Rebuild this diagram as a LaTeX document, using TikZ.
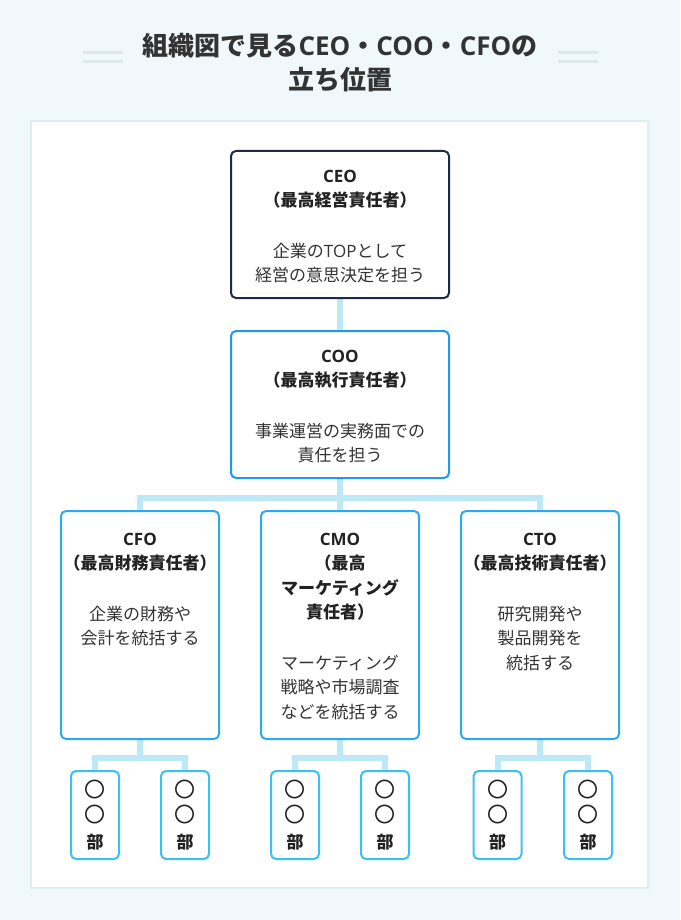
\documentclass[tikz,border=0pt]{standalone}
\usepackage{fontspec}
\setmainfont{Noto Sans CJK JP}
\newfontfamily\latf{Open Sans}
\usetikzlibrary{calc}
\definecolor{bg}{HTML}{F0F8FB}
\definecolor{panelline}{HTML}{DDEEF3}
\definecolor{deco}{HTML}{DCEAEE}
\definecolor{navy}{HTML}{1F2A44}
\definecolor{blueA}{HTML}{2196F3}
\definecolor{blueB}{HTML}{2EA8F2}
\definecolor{blueC}{HTML}{3DBFF3}
\definecolor{conn}{HTML}{BDE8F6}
\definecolor{ink}{HTML}{222222}
\definecolor{ink2}{HTML}{333333}
\pgfdeclarelayer{back}
\pgfdeclarelayer{connlayer}
\pgfsetlayers{back,connlayer,main}
\newcommand{\fl}[1]{\rule{0pt}{#1}}
\newcommand{\bl}[1]{{\bfseries\color{ink}#1}}
\newcommand{\la}[1]{{\latf #1}}
\newcommand{\maru}{{\fontsize{21}{25.5}\selectfont\color{ink}〇}}
\begin{document}
\begin{tikzpicture}[x=1pt,y=-1pt,
  box/.style={draw, fill=white, rounded corners=5pt, line width=2pt, inner sep=0pt, outer sep=0pt},
  bigbox/.style={box, minimum width=218pt, minimum height=147pt},
  midbox/.style={box, draw=blueB, minimum width=158pt, minimum height=228pt},
  smallbox/.style={box, draw=blueC, minimum width=48pt, minimum height=88pt, align=center,
     font=\fontsize{17}{25.5}\selectfont, text=ink2},
  txt/.style={anchor=north, align=center, inner sep=0pt, text=ink2,
     font=\fontsize{17}{24.5}\selectfont},
  connector/.style={draw=conn, line width=6pt},
  decoline/.style={draw=deco, line width=3pt},
]
\useasboundingbox (0,0) rectangle (680,920);
\begin{pgfonlayer}{back}
  \fill[bg] (0,0) rectangle (680,920);
  \draw[draw=panelline, fill=white, line width=2pt] (31,121) rectangle (648,888);
\end{pgfonlayer}

% title
\draw[decoline] (83,53) -- (123,53);
\draw[decoline] (83,62) -- (123,62);
\draw[decoline] (558,53) -- (598,53);
\draw[decoline] (558,62) -- (598,62);
\node[anchor=north, align=center, inner sep=0pt, text=ink2,
      font=\fontsize{26}{34}\selectfont\bfseries] (title) at (340,33)
  {\fl{20pt}組織図で見る\la{CEO}・\la{COO}・\la{CFO}の\\立ち位置};

% boxes
\node[bigbox, draw=navy] (ceo) at (340,224.5) {};
\node[bigbox, draw=blueA] (coo) at (340,404.5) {};
\node[midbox] (cfo) at (140,625) {};
\node[midbox] (cmo) at (340,625) {};
\node[midbox] (cto) at (540,625) {};

\node[smallbox] (d1) at (95,815) {\maru\\\maru\\\bl{部}};
\node[smallbox] (d2) at (185,815) {\maru\\\maru\\\bl{部}};
\node[smallbox] (d3) at (295,815) {\maru\\\maru\\\bl{部}};
\node[smallbox] (d4) at (385,815) {\maru\\\maru\\\bl{部}};
\node[smallbox] (d5) at (497.5,815) {\maru\\\maru\\\bl{部}};
\node[smallbox] (d6) at (588,815) {\maru\\\maru\\\bl{部}};

% texts
\node[txt] (ceot) at ($(ceo.north)+(0,17)$)
  {\fl{14pt}\bl{\la{CEO}}\\\bl{（最高経営責任者）}\\[26pt]企業の\la{TOP}として\\経営の意思決定を担う};
\node[txt] (coot) at ($(coo.north)+(0,17)$)
  {\fl{14pt}\bl{\la{COO}}\\\bl{（最高執行責任者）}\\[26pt]事業運営の実務面での\\責任を担う};
\node[txt] (cfot) at ($(cfo.north)+(0,20)$)
  {\fl{14pt}\bl{\la{CFO}}\\\bl{（最高財務責任者）}\\[26pt]企業の財務や\\会計を統括する};
\node[txt] (cmot) at ($(cmo.north)+(0,20)$)
  {\fl{14pt}\bl{\la{CMO}}\\\bl{（最高}\\\bl{マーケティング}\\\bl{責任者）}\\[26pt]マーケティング\\戦略や市場調査\\などを統括する};
\node[txt] (ctot) at ($(cto.north)+(0,20)$)
  {\fl{14pt}\bl{\la{CTO}}\\\bl{（最高技術責任者）}\\[26pt]研究開発や\\製品開発を\\統括する};

% connectors
\coordinate (bus) at (340,497.5);
\coordinate (busA) at (140,758);
\coordinate (busB) at (340,758);
\coordinate (busC) at (540,758);
\begin{pgfonlayer}{connlayer}
  \draw[connector] (ceo.south) -- (coo.north);
  \draw[connector] (coo.south) -- (cmo.north);
  \draw[connector] (cfo.north) |- (bus) -| (cto.north);
  \draw[connector] (cfo.south) -- (busA);
  \draw[connector] (d1.north) |- (busA) -| (d2.north);
  \draw[connector] (cmo.south) -- (busB);
  \draw[connector] (d3.north) |- (busB) -| (d4.north);
  \draw[connector] (cto.south) -- (busC);
  \draw[connector] (d5.north) |- (busC) -| (d6.north);
\end{pgfonlayer}
\end{tikzpicture}
\end{document}
